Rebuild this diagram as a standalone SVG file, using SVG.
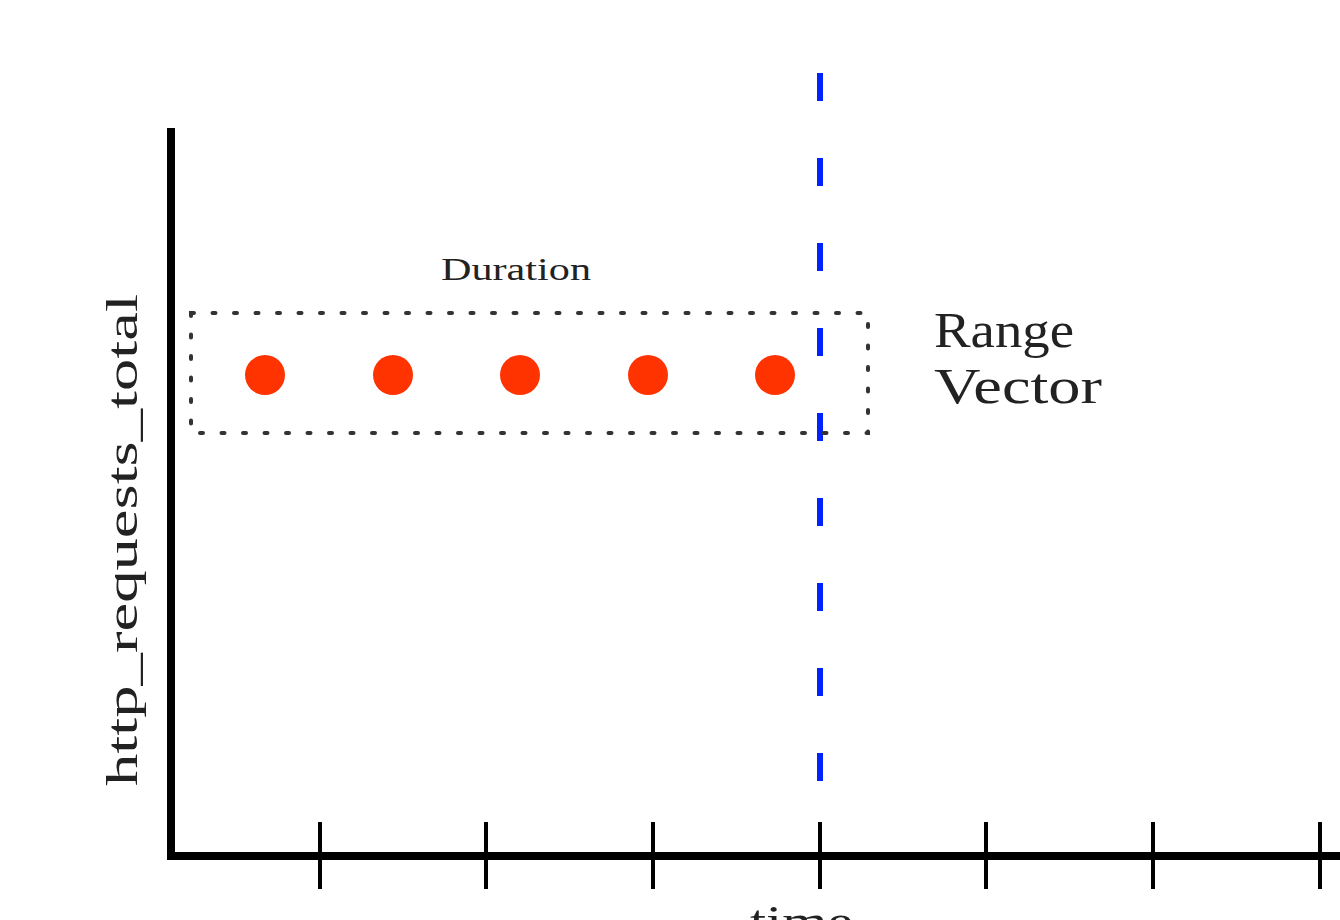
<svg xmlns="http://www.w3.org/2000/svg" width="1340" height="920" viewBox="0 0 1340 920">
<style>
.axis{stroke:#000;stroke-width:8;fill:none}
.tick{stroke:#000;stroke-width:4}
.lbl{font-family:"Liberation Serif","DejaVu Serif",serif;fill:#222}
.pt{fill:#FF3300}
</style>
<rect width="1340" height="920" fill="#fff"/>
<g id="axes">
<line class="axis" x1="171" y1="128" x2="171" y2="860"/>
<line class="axis" x1="167" y1="856" x2="1340" y2="856" stroke-width="9"/>
<g id="ticks">
<line class="tick" x1="320" y1="822" x2="320" y2="889"/>
<line class="tick" x1="486" y1="822" x2="486" y2="889"/>
<line class="tick" x1="653" y1="822" x2="653" y2="889"/>
<line class="tick" x1="820" y1="822" x2="820" y2="889"/>
<line class="tick" x1="986" y1="822" x2="986" y2="889"/>
<line class="tick" x1="1153" y1="822" x2="1153" y2="889"/>
<line class="tick" x1="1320" y1="822" x2="1320" y2="889"/>
</g>
</g>
<g id="now-line">
<line x1="820" y1="73" x2="820" y2="790" stroke="#0022FF" stroke-width="6" stroke-dasharray="28 57"/>
</g>
<g id="range-box">
<rect x="191" y="313" width="677" height="120" fill="none" stroke="#333" stroke-width="4" stroke-dasharray="3 18.5" stroke-linecap="round"/>
</g>
<g id="samples">
<circle class="pt" cx="265" cy="375" r="20"/>
<circle class="pt" cx="393" cy="375" r="20"/>
<circle class="pt" cx="520" cy="375" r="20"/>
<circle class="pt" cx="648" cy="375" r="20"/>
<circle class="pt" cx="775" cy="375" r="20"/>
</g>
<g id="labels">
<text class="lbl" x="441" y="280" font-size="31" textLength="150" lengthAdjust="spacingAndGlyphs">Duration</text>
<text class="lbl" x="934" y="347" font-size="50" textLength="140" lengthAdjust="spacingAndGlyphs">Range</text>
<text class="lbl" x="934" y="403" font-size="50" textLength="168" lengthAdjust="spacingAndGlyphs">Vector</text>
<text class="lbl" transform="translate(137,786) rotate(-90)" font-size="45" textLength="492" lengthAdjust="spacingAndGlyphs">http_requests_total</text>
<text class="lbl" x="750" y="936" font-size="45" textLength="103" lengthAdjust="spacingAndGlyphs">time</text>
</g>
</svg>
